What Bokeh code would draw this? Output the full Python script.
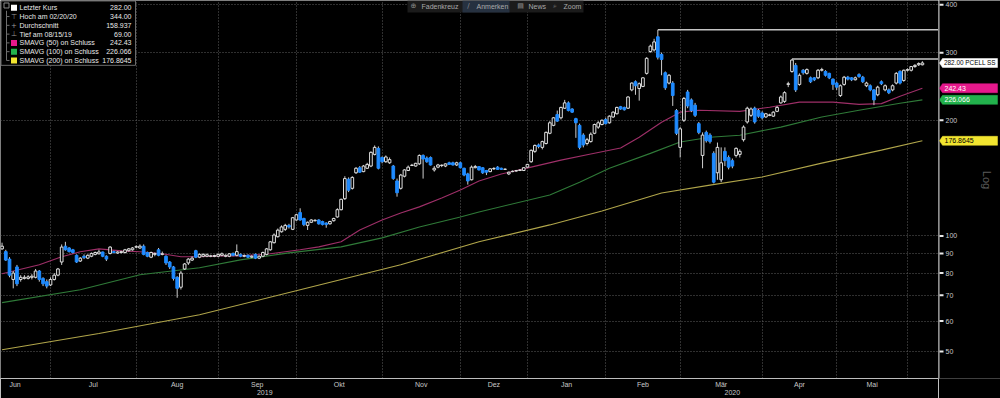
import math
from bokeh.plotting import figure
from bokeh.layouts import row
from bokeh.models import Range1d, FixedTicker, ColumnDataSource
from bokeh.core.properties import value
from bokeh.embed import file_html
from bokeh.resources import INLINE

# ---------------- data (PCELL SS, daily, trading-session index; 1 Jul 2019 = 0) ----------------
first_session = -13

opens = [
    92.5, 91, 87, 77, 83, 77, 77.5, 77.5, 78, 78,
    81, 77.5, 76, 74.5, 77, 79, 85.5, 94, 93, 92,
    89, 86, 88.5, 87.5, 88.5, 89.5, 89.8, 90.8, 88.5, 90,
    91, 90.2, 90.5, 90.5, 91.5, 92, 93.5, 93, 94, 90.5,
    88, 89.5, 92, 89.5, 88.5, 85.5, 83, 78, 73.5, 82,
    85, 86.5, 91.5, 88, 88.5, 88.5, 88.5, 88.4, 88.5, 89,
    88.5, 88.5, 90, 89, 89.5, 88.5, 89, 88, 89.5, 87.5,
    88.5, 89.5, 92, 96, 99.5, 102.5, 104, 106.5, 104, 110,
    115, 111, 106.5, 108.5, 109.5, 110, 109, 108, 107.5, 109.5,
    112, 117, 125, 140.5, 133, 146, 150.5, 147, 150, 152,
    163, 169, 160, 156, 155, 152, 139, 133, 143, 148,
    152.5, 152, 154, 162, 159.5, 160, 148.5, 151, 152.5, 152,
    155, 155, 153, 155, 150, 145, 140, 150.5, 151.5, 150.5,
    148, 147, 149.5, 151, 150, 149, 145, 147, 147.5, 148,
    148, 151, 156, 166, 172.5, 170, 174, 185, 194, 207,
    203, 215, 222, 214, 202, 194, 183, 174, 176, 185,
    192, 195, 201, 197, 204, 208, 217, 216, 215, 240,
    252, 242, 245, 265, 302, 305, 330, 297, 266, 250,
    250, 212, 170, 200, 237, 226, 219, 196, 162, 186,
    183, 164, 146, 140, 166, 160, 157, 162, 163, 178,
    198, 206, 215, 212, 209, 204, 206, 205, 211, 222,
    224, 248, 268, 278, 248, 270, 265, 258, 258, 258,
    270, 268, 265, 256, 250, 232, 248, 259, 258, 255,
    263, 259, 246, 246, 240, 233, 252, 240, 240, 240,
    250, 268, 254, 270, 270, 276, 279, 279,
]
highs = [
    96, 92, 88, 81, 84, 79, 79, 79, 79.5, 82,
    81.5, 78, 77, 78, 80, 82.5, 95, 96.5, 93.5, 92.5,
    89.5, 88, 89.5, 89.5, 90.5, 91, 92, 91, 89, 94,
    91.5, 91.2, 91.5, 92.5, 93, 93.5, 94.5, 95, 95, 91,
    91, 90.5, 93, 91, 89, 86, 83.5, 78.5, 81, 85,
    87.5, 88.5, 92, 90, 90, 90, 89.3, 89.3, 90, 90.5,
    89.5, 90.2, 90.5, 95, 90, 89.5, 89.5, 89, 90, 89,
    91, 93, 97, 101.5, 104.5, 106.5, 107.5, 107.5, 112, 114,
    118, 111.5, 109, 110.5, 110.5, 110.5, 109.5, 108.5, 109.5, 111.5,
    118, 125, 143, 142, 143, 151, 152, 153, 155, 166,
    172, 171, 161, 162, 160, 153, 141, 145, 149, 152.5,
    154, 155, 163, 163, 161, 161, 152, 154, 153.5, 154.5,
    156, 156, 156, 156, 150.5, 146, 152.5, 153, 152, 151,
    148.5, 150, 151, 152, 150.5, 149.8, 147, 148, 148.5, 149,
    151, 154, 168, 173, 174, 177, 187, 199, 204, 212,
    217, 226, 224, 215, 203, 196, 185, 180, 186, 196,
    199, 201, 203, 206, 211, 217, 218, 217, 231, 251,
    254, 251, 259, 292, 315, 326, 344, 300, 268, 264,
    253, 214, 192, 230, 240, 228, 222, 198, 186, 188,
    185, 166, 175, 170, 170, 162, 159, 170, 168, 194,
    217, 216, 217, 214, 211, 209, 208, 211, 218, 232,
    238, 252, 289, 282, 265, 272, 273, 260, 259, 272,
    274, 270, 266, 257, 252, 248, 261, 261, 259, 260,
    265, 261, 252, 248, 241, 246, 254, 248, 242, 248,
    267, 270, 271, 273, 277, 280, 283, 285,
]
lows = [
    92, 86, 78, 73, 74, 76, 77, 77, 77, 77.5,
    76, 74, 73, 74, 76.5, 78.5, 84, 91.5, 90.5, 90,
    85, 85.5, 87, 87, 88, 89, 89.5, 88, 86, 89.5,
    90, 89.8, 90, 90, 91, 91.5, 93, 92.5, 89, 88,
    87.5, 88.5, 88.5, 89, 84, 82, 76.5, 69, 72.5, 81.5,
    84, 86, 87.5, 87.5, 88, 88, 88, 88, 88, 88.5,
    88, 88, 88.5, 88.5, 88, 88, 87.5, 87.5, 87, 87,
    88, 89, 91.5, 95.5, 99, 102, 103, 104.5, 103.5, 109.5,
    109.5, 106, 103.6, 108, 109, 107, 106.5, 105, 107, 109,
    111.5, 116.5, 124, 130, 132, 145, 146, 146.5, 149.5, 151,
    162, 149, 154.5, 155, 154, 140, 126.5, 132, 142, 147.5,
    152, 151.5, 153, 141, 155, 152.5, 147, 150, 151, 151,
    153, 152.5, 152, 150, 143, 136, 139.5, 150, 148, 145,
    144, 146.5, 148.5, 148.5, 148.5, 148.5, 144, 146.5, 147, 147.5,
    147.5, 150.5, 155, 164.5, 169, 168, 173, 184, 193, 198,
    201, 214, 211, 209, 180, 168, 170, 172, 175, 184,
    190, 194, 195, 196, 203, 207, 213, 212, 214, 238,
    233, 225, 244, 263, 300, 302, 288, 262, 240, 248,
    218, 183, 160, 198, 215, 210, 204, 184, 150, 175,
    174, 137, 140, 138, 152, 149, 150, 160, 160, 176,
    196, 204, 196, 203, 201, 203, 205, 204, 210, 221,
    222, 244, 266, 237, 246, 263, 263, 250, 253, 256,
    268, 260, 256, 240, 240, 230, 246, 254, 253, 254,
    258, 250, 244, 238, 219, 231, 247, 238, 234, 238,
    248, 248, 252, 268, 268, 274, 277, 278,
]
closes = [
    94, 86.5, 79, 80, 75, 78, 78, 78.2, 78.5, 81,
    77, 75, 74, 77, 79, 82, 93.5, 92, 91, 90.5,
    85.5, 87.5, 87.8, 89, 90, 90.5, 90.8, 88.5, 87, 93.5,
    90.5, 90.8, 91, 92, 92.5, 93, 93.7, 94, 89.5, 88.5,
    90.5, 90, 89, 89.8, 85, 83, 77.5, 73, 80, 84.5,
    87, 87.5, 88, 89.5, 89.5, 89.3, 88.7, 88.9, 89.5, 89.8,
    89, 89.8, 89, 91, 88.5, 88.8, 88, 88.5, 87.5, 88.5,
    90.5, 92.5, 96.5, 100.5, 103.5, 105.5, 106.5, 105.5, 111.5, 113.5,
    110, 107, 108.5, 110, 109.8, 107.5, 107, 107, 109, 111,
    117, 124.5, 141, 131.5, 142, 150, 146.5, 152, 153.5, 165,
    170, 150, 156, 160.5, 158, 141, 129.5, 144, 148.5, 151,
    152.8, 154.5, 162, 158.5, 156, 153, 150, 153, 152.8, 154,
    153.5, 153, 155, 150.5, 144, 139, 151, 151.5, 148.5, 146,
    146.5, 149.5, 149.8, 149, 149, 149.2, 146.5, 147.3, 148, 148.5,
    150.5, 153.5, 167, 172, 171, 176, 186, 197, 203, 199,
    216, 222, 212, 210, 197, 170, 172.5, 178, 184, 195,
    197, 200, 196, 205, 210, 216, 214, 213, 230, 250,
    246, 249, 258, 290, 312, 320, 292, 288, 243, 262,
    232, 185, 190, 228, 218, 212, 206, 186, 183, 177,
    176, 138, 170, 155, 157, 151, 152, 169, 166, 192,
    215, 214, 198, 205, 203, 208, 206.5, 210, 216, 230,
    236, 249, 287, 240, 262, 266, 271, 252, 255, 270,
    271, 262, 258, 248, 244, 246, 259, 256, 255, 258,
    260, 252, 250, 240, 226, 244, 249, 246, 236, 246,
    265, 250, 270, 271, 276, 278, 281, 282,
]

# moving averages (session index, value)
sma50_day = [-13, -3, 3, 8, 13, 19, 24, 30, 35, 40, 46, 51, 59, 67, 72, 78, 83, 89, 94, 99,
             105, 110, 115, 121, 129, 137, 145, 153, 158, 164, 169, 174, 185, 193, 201, 210, 217, 223, 228, 234]
sma50 = [79.7, 84.1, 88.2, 90.9, 92.5, 91.4, 90.9, 89.8, 88.2, 88.2, 88.7, 88.7, 89.8, 92, 93.6, 96.5, 103.6, 110, 114.7, 119,
         125.5, 131.7, 139, 144.9, 151, 157.5, 163.4, 169.3, 180.7, 197.7, 210, 212.5, 211, 216.3, 223, 223, 220, 221, 231, 242.43]
sma100_day = [-13, 8, 24, 40, 51, 64, 78, 89, 99, 110, 115, 134, 142, 150, 161, 169, 177, 185, 196, 207, 217, 228, 234]
sma100 = [67, 72.4, 79.2, 82.6, 86.6, 90.3, 93.6, 98.8, 105.5, 112, 115.4, 127.8, 138, 150, 164, 175.5, 180.7, 182.9,
          192, 203.9, 212.5, 221.6, 226.066]
sma200_day = [-13, 13, 40, 67, 94, 115, 134, 148, 164, 177, 191, 207, 223, 234]
sma200 = [50.5, 55.7, 62.3, 72.4, 84.1, 96.5, 106.8, 116.1, 129.3, 135.6, 142.3, 154.7, 167.2, 176.8645]

# horizontal annotation rays (start session, level)
ray_day = [163, 199]
ray_level = [344.0, 289.0]

month_names = ["Jun", "Jul", "Aug", "Sep", "Okt", "Nov", "Dez", "Jan", "Feb", "Mär", "Apr", "Mai"]
month_starts = [-19, 0, 23, 45, 66, 89, 110, 128, 149, 169, 191, 211, 230]
year_names = ["2019", "2020"]
year_label_pos = [57.5, 183.0]

y_ticks = [50, 60, 70, 80, 90, 100, 200, 300, 400]
y_tick_labels = ["50", "60", "70", "80", "90", "100", "200", "300", "400"]

legend_names = ["Letzter Kurs", "Hoch am 02/20/20", "Durchschnitt", "Tief am 08/15/19",
                "SMAVG (50)  on Schluss", "SMAVG (100)  on Schluss", "SMAVG (200)  on Schluss"]
legend_values = ["282.00", "344.00", "158.937", "69.00", "242.43", "226.066", "176.8645"]

tag_values = [282.00, 242.43, 226.066, 176.8645]
tag_texts = ["282.00 PCELL SS", "242.43", "226.066", "176.8645"]

toolbar_items = ["Fadenkreuz", "Anmerken", "News", "Zoom"]

# ---------------- layout helpers (page pixel -> data) ----------------
PX_DAY = 3.726
PX_DAY0 = 50.0


def px2x(px):
    return (px - PX_DAY0) / PX_DAY


def px2y(py):
    return 100.0 * 10 ** ((236.0 - py) / 385.0)


def val2py(v):
    return 236.0 - 385.0 * math.log10(v / 100.0)


FONT = "Liberation Sans"
C_UP = "#e0e0e0"
C_DN = "#1f8bff"
C_50, C_100, C_200 = "#9e2f68", "#2f7a38", "#b0a54a"
TAG_BG = ["#ffffff", "#e6198c", "#22b14c", "#f2e530"]
TAG_FG = ["#000000", "#ffffff", "#ffffff", "#000000"]

FRAME_R = 938
FRAME_B = 379
H = 398

x_lo, x_hi = px2x(0), px2x(FRAME_R)
yr = Range1d(px2y(FRAME_B), px2y(0))

p = figure(width=FRAME_R, height=H,
           x_range=Range1d(x_lo, x_hi), y_range=yr,
           y_axis_type="log", y_axis_location=None,
           output_backend="svg", toolbar_location=None,
           min_border_left=0, min_border_top=0, min_border_right=0, min_border_bottom=H - FRAME_B,
           background_fill_color="black", border_fill_color="black", outline_line_color=None)

# grids
p.xgrid.ticker = FixedTicker(ticks=month_starts[1:])
p.ygrid.ticker = FixedTicker(ticks=y_ticks)
for g in (p.xgrid, p.ygrid):
    g.grid_line_color = "#5e5e5e"
    g.grid_line_dash = "1 2"
    g.grid_line_width = 1

# bottom axis: month names centred in each month, year on a second line
xax = p.xaxis[0]
label_pos = [(month_starts[i] + month_starts[i + 1]) / 2 for i in range(len(month_names))]
overrides = {pos: nm for pos, nm in zip(label_pos, month_names)}
for pos, nm in zip(year_label_pos, year_names):
    overrides[pos] = "\n" + nm
xax.ticker = FixedTicker(ticks=label_pos + year_label_pos)
xax.major_label_overrides = overrides
xax.axis_line_color = "#bdbdbd"
xax.major_tick_line_color = None
xax.minor_tick_line_color = None
xax.major_tick_out = 0
xax.major_tick_in = 0
xax.major_label_standoff = 2
xax.major_label_text_font = FONT
xax.major_label_text_font_size = "7px"
xax.major_label_text_color = "#c8c8c8"
xax.major_label_text_line_height = 1.15

# moving averages
p.line(sma200_day, sma200, line_color=C_200, line_width=1.1)
p.line(sma100_day, sma100, line_color=C_100, line_width=1.1)
p.line(sma50_day, sma50, line_color=C_50, line_width=1.1)

# candles
n = len(closes)
day = list(range(first_session, first_session + n))


def sub(ix):
    ix = list(ix)
    return ColumnDataSource(dict(x=[day[i] for i in ix], o=[opens[i] for i in ix], h=[highs[i] for i in ix],
                                 l=[lows[i] for i in ix], c=[closes[i] for i in ix]))


up = [i for i in range(n) if closes[i] >= opens[i]]
dn = [i for i in range(n) if closes[i] < opens[i]]
p.segment(x0="x", y0="l", x1="x", y1="h", source=sub(range(n)), line_color="#cdcdcd", line_width=1)
p.vbar(x="x", width=0.72, top="c", bottom="o", source=sub(up), fill_color="black", line_color=C_UP, line_width=1)
p.vbar(x="x", width=0.72, top="o", bottom="c", source=sub(dn), fill_color=C_DN, line_color=C_DN, line_width=1)

# annotation rays
p.segment(x0=ray_day, y0=ray_level, x1=[x_hi] * len(ray_day), y1=ray_level, line_color="#c4c4c4", line_width=1.5)

# legend box
row_py = [7.3 + 8.8 * i for i in range(len(legend_names))]
p.quad(left=[px2x(0.5)], right=[px2x(135)], top=[px2y(0.5)], bottom=[px2y(65)],
       fill_color="black", line_color="#6a6a6a", line_width=1)
p.segment(x0=[px2x(6)], y0=[px2y(row_py[0] + 3)], x1=[px2x(6)], y1=[px2y(row_py[-1])], line_color="#6f6f6f", line_width=1)
p.segment(x0=[px2x(6)] * 6, y0=[px2y(v) for v in row_py[1:]], x1=[px2x(9)] * 6, y1=[px2y(v) for v in row_py[1:]],
          line_color="#6f6f6f", line_width=1)
p.scatter(x=[px2x(6)], y=[px2y(5)], marker="square", size=5, fill_color="black", line_color="#8a8a8a")
p.text(x=[px2x(19)] * len(legend_names), y=[px2y(v) for v in row_py], text=legend_names,
       text_font=value(FONT), text_font_size="7px", text_color="#e8e8e8",
       text_baseline="middle", text_align="left")
p.text(x=[px2x(131)] * len(legend_values), y=[px2y(v) for v in row_py], text=legend_values,
       text_font=value(FONT), text_font_size="7px", text_color="#e8e8e8",
       text_baseline="middle", text_align="right")
sq_rows = [0, 4, 5, 6]
p.scatter(x=[px2x(13.5)] * 4, y=[px2y(row_py[i]) for i in sq_rows], marker="square", size=6,
          fill_color=TAG_BG, line_color=None)
p.text(x=[px2x(13.5)] * 3, y=[px2y(row_py[i]) for i in (1, 2, 3)], text=["\u22a4", "+", "\u22a5"],
       text_font=value("DejaVu Sans"), text_font_size="7px", text_color="#9a9a9a",
       text_baseline="middle", text_align="center")

# toolbar strip
p.quad(left=[px2x(407)], right=[px2x(583)], top=[px2y(0)], bottom=[px2y(12)], fill_color="#1b1b1b", line_color=None)
p.quad(left=[px2x(462)], right=[px2x(509)], top=[px2y(0)], bottom=[px2y(12)], fill_color="#263140", line_color=None)
tb_y = px2y(6)
p.text(x=[px2x(421), px2x(476), px2x(528), px2x(563)], y=[tb_y] * 4, text=toolbar_items,
       text_font=value(FONT), text_font_size="7px", text_color="#a9a9a9",
       text_baseline="middle", text_align="left")
p.text(x=[px2x(413), px2x(468), px2x(520), px2x(554)], y=[tb_y] * 4, text=["\u2295", "\u2215", "\u25a4", "\u2315"],
       text_font=value("DejaVu Sans"), text_font_size="7px", text_color="#8c8c8c",
       text_baseline="middle", text_align="center")

# ---------------- right-hand panel: price axis, tags, scale label ----------------
SIDE_W = 1000 - FRAME_R
side = figure(width=SIDE_W, height=H, x_range=Range1d(0, SIDE_W), y_range=yr,
              y_axis_type="log", x_axis_location=None, y_axis_location=None,
              output_backend="svg", toolbar_location=None,
              min_border_left=0, min_border_top=0, min_border_right=0, min_border_bottom=H - FRAME_B,
              background_fill_color="black", border_fill_color="black", outline_line_color=None)
side.grid.visible = False

side.segment(x0=[0.5], y0=[yr.start], x1=[0.5], y1=[yr.end], line_color="#bdbdbd", line_width=1)
side.segment(x0=[1] * len(y_ticks), y0=y_ticks, x1=[5] * len(y_ticks), y1=y_ticks, line_color="#e8e8e8", line_width=2)
side.text(x=[7] * len(y_ticks), y=y_ticks, text=y_tick_labels, text_font=value(FONT), text_font_size="7px",
          text_color="#c8c8c8", text_baseline="middle", text_align="left")

tag_xs, tag_ys = [], []
for v in tag_values:
    py = val2py(v)
    tag_xs.append([4, 59, 59, 4, 1])
    tag_ys.append([px2y(py - 4.5), px2y(py - 4.5), px2y(py + 4.5), px2y(py + 4.5), v])
side.patches(xs=tag_xs, ys=tag_ys, fill_color=TAG_BG, line_color=TAG_BG, line_width=0.5)
# first tag carries the ticker and needs a slightly smaller size to fit its box
side.text(x=[5.5], y=tag_values[:1], text=tag_texts[:1], text_font=value(FONT), text_font_size="6.4px",
          text_color=TAG_FG[0], text_baseline="middle", text_align="left")
side.text(x=[6] * (len(tag_values) - 1), y=tag_values[1:], text=tag_texts[1:], text_font=value(FONT),
          text_font_size="7px", text_color=TAG_FG[1:], text_baseline="middle", text_align="left")
side.text(x=[48], y=[px2y(180)], text=["Log"], angle=-math.pi / 2, text_font=value(FONT), text_font_size="11px",
          text_color="#5c5c5c", text_baseline="middle", text_align="center")

layout = row(p, side)
open("out.html", "w", encoding="utf-8").write(file_html(layout, INLINE))
